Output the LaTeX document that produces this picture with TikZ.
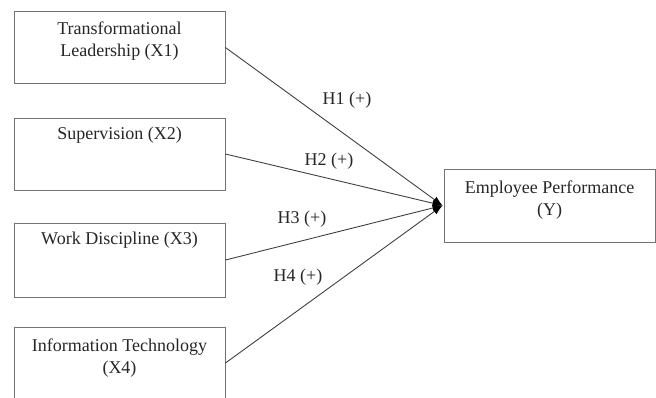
\documentclass[tikz,border=0pt]{standalone}
\usepackage{fontspec}
\setmainfont{Liberation Serif}
\usetikzlibrary{arrows.meta}
\begin{document}
\begin{tikzpicture}[x=1bp,y=-1bp,
  box/.style={draw=black!55,line width=0.9bp,minimum width=211bp,minimum height=72bp,inner sep=0pt},
  txt/.style={font=\fontsize{18bp}{22bp}\selectfont,align=center,inner sep=0pt,anchor=north,text=black!85},
  hyp/.style={font=\fontsize{18bp}{22bp}\selectfont,inner sep=0pt,text=black!85},
  link/.style={draw=black!75,line width=0.9bp,-{Latex[length=10bp,width=7bp,color=black]}}]
\useasboundingbox (0,0) rectangle (656,397);
\clip (0,0) rectangle (656,397);
\node[box] (x1) at (119.5,47.5) {};
\node[box] (x2) at (119.5,154) {};
\node[box,minimum height=74bp] (x3) at (119.5,260) {};
\node[box] (x4) at (119.5,363) {};
\node[box,minimum height=73bp] (y) at (549.5,205.5) {};
\node[txt] (t1) at ([yshift=-11bp]x1.north) {Transformational\\Leadership (X1)};
\node[txt] (t2) at ([yshift=-9bp]x2.north) {Supervision (X2)};
\node[txt] (t3) at ([yshift=-9bp]x3.north) {Work Discipline (X3)};
\node[txt] (t4) at ([yshift=-12bp]x4.north) {Information Technology\\(X4)};
\node[txt] (ty) at ([yshift=-12bp]y.north) {Employee Performance\\(Y)};
\coordinate (tip) at ([xshift=-1bp]y.west);
\draw[link] (x1.east) -- (tip);
\draw[link] (x2.east) -- (tip);
\draw[link] (x3.east) -- (tip);
\draw[link] (x4.east) -- (tip);
\node[hyp] (h1) at (347,100) {H1 (+)};
\node[hyp] (h2) at (329,161) {H2 (+)};
\node[hyp] (h3) at (302,219) {H3 (+)};
\node[hyp] (h4) at (298,277) {H4 (+)};
\end{tikzpicture}
\end{document}
